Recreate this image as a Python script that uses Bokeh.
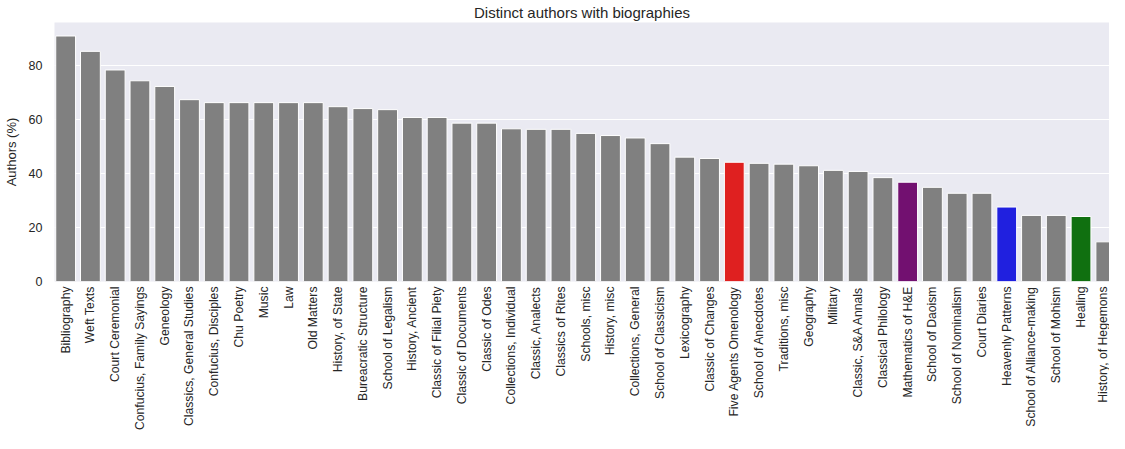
from math import pi
from bokeh.plotting import figure
from bokeh.models import ColumnDataSource, Range1d, FixedTicker
from bokeh.embed import file_html
from bokeh.resources import INLINE

categories = [
    "Bibliography", "Weft Texts", "Court Ceremonial", "Confucius, Family Sayings",
    "Geneology", "Classics, General Studies", "Confucius, Disciples", "Chu Poetry",
    "Music", "Law", "Old Matters", "History, of State", "Bureacratic Structure",
    "School of Legalism", "History, Ancient", "Classic of Filial Piety",
    "Classic of Documents", "Classic of Odes", "Collections, Individual",
    "Classic, Analects", "Classics of Rites", "Schools, misc", "History, misc",
    "Collections, General", "School of Classicism", "Lexicography",
    "Classic of Changes", "Five Agents Omenology", "School of Anecdotes",
    "Traditions, misc", "Geography", "Military", "Classic, S&A Annals",
    "Classical Philology", "Mathematics of H&E", "School of Daoism",
    "School of Nominalism", "Court Diaries", "Heavenly Patterns",
    "School of Alliance-making", "School of Mohism", "Healing",
    "History, of Hegemons",
]
values = [
    91.0, 85.3, 78.4, 74.4, 72.3, 67.4, 66.3, 66.3, 66.3, 66.3, 66.3, 64.8,
    64.1, 63.7, 60.8, 60.8, 58.7, 58.7, 56.6, 56.4, 56.4, 54.9, 54.1, 53.2,
    51.1, 46.1, 45.6, 44.2, 43.8, 43.5, 42.9, 41.2, 40.8, 38.5, 36.8, 34.9,
    32.7, 32.7, 27.6, 24.5, 24.5, 24.1, 14.7,
]
highlight = {
    "Five Agents Omenology": "#DF2020",
    "Mathematics of H&E": "#721070",
    "Heavenly Patterns": "#2020DF",
    "Healing": "#107010",
}
base_color = "#808080"
y_ticks = [0, 20, 40, 60, 80]

xs = list(range(len(categories)))
colors = [highlight.get(c, base_color) for c in categories]
src = ColumnDataSource(dict(x=xs, top=values, color=colors, name=categories))

TEXT = "#262626"
FONT = "Liberation Sans"

p = figure(
    width=1109, height=433,
    x_range=Range1d(-0.45, 42.15), y_range=Range1d(0, 96.0),
    output_backend="svg", toolbar_location=None,
    title="Distinct authors with biographies",
    min_border_left=0, min_border_right=0, min_border_top=0, min_border_bottom=0,
)
p.vbar(x="x", top="top", width=0.8, bottom=0, source=src,
       fill_color="color", line_color="white", line_width=1)

p.background_fill_color = "#EAEAF2"
p.border_fill_color = "white"
p.outline_line_color = None

p.title.align = "center"
p.title.text_font = FONT
p.title.text_font_size = "15px"
p.title.text_font_style = "normal"
p.title.text_color = TEXT
p.title.standoff = 3

p.xgrid.visible = False
p.ygrid.ticker = FixedTicker(ticks=y_ticks)
p.ygrid.grid_line_color = "white"
p.ygrid.grid_line_width = 1

for ax in (p.xaxis[0], p.yaxis[0]):
    ax.axis_line_color = None
    ax.major_tick_line_color = None
    ax.minor_tick_line_color = None
    ax.major_tick_out = 0
    ax.major_tick_in = 0
    ax.major_label_text_font = FONT
    ax.major_label_text_color = TEXT

xa = p.xaxis[0]
xa.ticker = FixedTicker(ticks=xs)
xa.major_label_overrides = {i: c for i, c in enumerate(categories)}
xa.major_label_orientation = pi / 2
xa.major_label_standoff = 5
xa.axis_label_standoff = 0
xa.major_label_text_font_size = "12.2px"

ya = p.yaxis[0]
ya.ticker = FixedTicker(ticks=y_ticks)
ya.major_label_standoff = 12
ya.major_label_text_font_size = "12.5px"
ya.axis_label = "Authors (%)"
ya.axis_label_text_font = FONT
ya.axis_label_text_font_size = "13px"
ya.axis_label_text_font_style = "normal"
ya.axis_label_text_color = TEXT
ya.axis_label_standoff = 7

open("out.html", "w").write(file_html(p, INLINE))
